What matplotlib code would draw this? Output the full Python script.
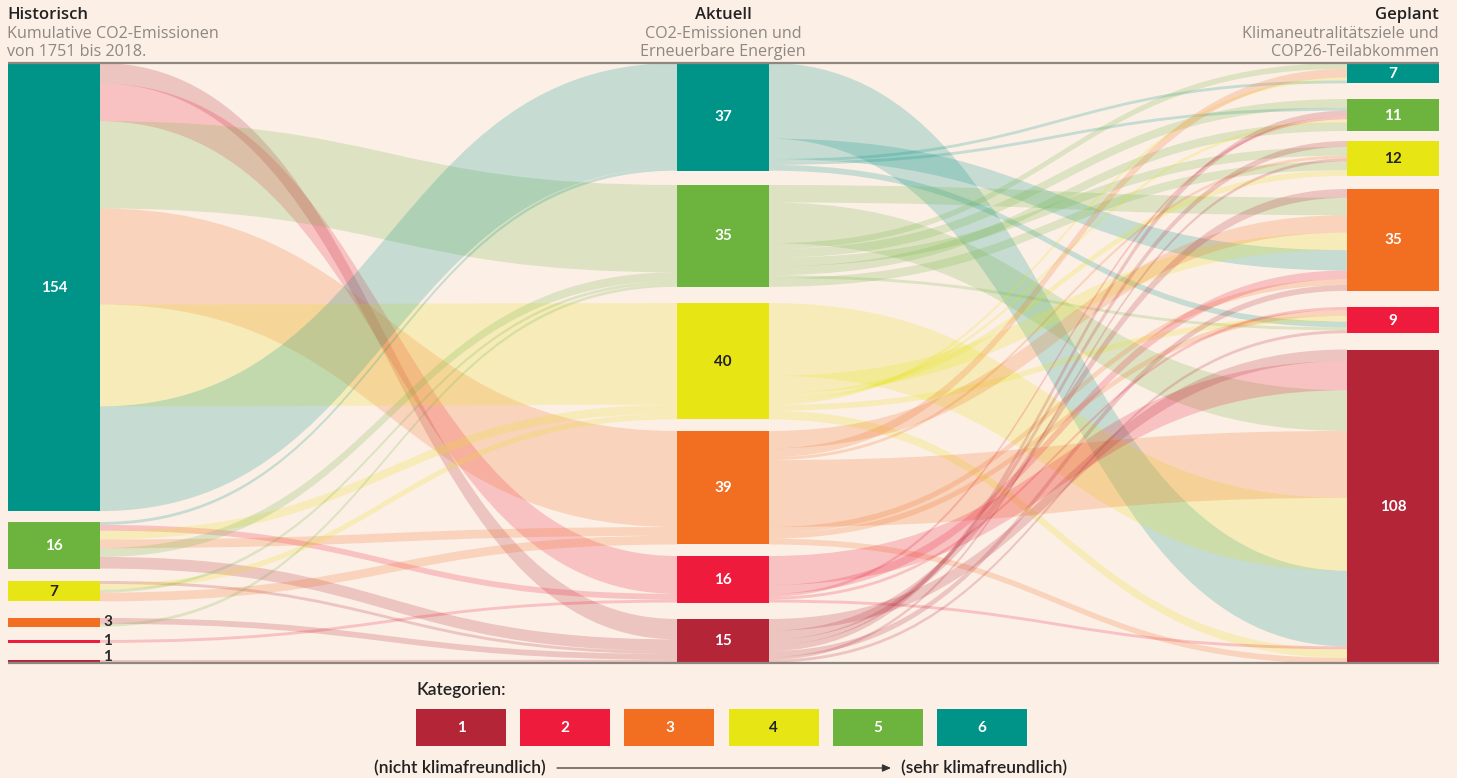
import matplotlib
matplotlib.use("Agg")
import matplotlib.pyplot as plt
from matplotlib.path import Path
from matplotlib.patches import PathPatch, Rectangle

# ---------------- data ----------------
cats = [6, 5, 4, 3, 2, 1]                 # node order top -> bottom in every column
left_values = [154, 16, 7, 3, 1, 1]
mid_values = [37, 35, 40, 39, 16, 15]
right_values = [7, 11, 12, 35, 9, 108]

# Historisch -> Aktuell (listed in stacking order at the source node)
lm_src = [6, 6, 6, 6, 6, 6, 5, 5, 5, 5, 5, 5, 4, 4, 4, 4, 3, 3, 2, 1]
lm_tgt = [1, 2, 5, 3, 4, 6, 6, 2, 4, 3, 5, 1, 1, 4, 5, 3, 1, 5, 2, 1]
lm_val = [7, 13, 30, 33, 35, 36, 1, 2, 3, 3, 3, 4, 1, 2, 1, 3, 2, 1, 1, 1]

# Aktuell -> Geplant (listed in stacking order at the source node)
mr_src = [6, 6, 6, 6, 6,
          5, 5, 5, 5, 5, 5, 5, 5,
          4, 4, 4, 4, 4, 4, 4,
          3, 3, 3, 3, 3, 3, 3,
          2, 2, 2, 2, 2,
          1, 1, 1, 1, 1, 1, 1]
mr_tgt = [1, 3, 6, 5, 2,
          3, 1, 6, 5, 4, 5, 2, 4,
          1, 3, 4, 5, 6, 2, 1,
          3, 6, 4, 1, 3, 2, 1,
          1, 3, 5, 2, 1,
          1, 3, 4, 5, 3, 4, 2]
mr_val = [26, 7, 1, 1, 2,
          6, 14, 2, 3, 3, 3, 1, 3,
          25, 6, 2, 1, 1, 2, 3,
          6, 3, 1, 23, 2, 2, 2,
          10, 3, 1, 1, 1,
          4, 3, 2, 2, 2, 1, 1]

legend_labels = ["1", "2", "3", "4", "5", "6"]

# ---------------- layout / style ----------------
W, H = 1457, 778
bg = "#fcefe6"
colors = {1: "#b42637", 2: "#ee1b3c", 3: "#f26f21", 4: "#e8e514",
          5: "#6db43f", 6: "#009489"}
txtcol = {1: "white", 2: "white", 3: "white", 4: "#222222", 5: "white", 6: "white"}
k = 2.91                       # pixels per unit
top, bottom = 63, 663
col_x = [(8, 100), (677, 769), (1347, 1439)]
left_tops = [63, 522, 581, 618, 640, 660]
mid_tops = [63, 185, 303, 431, 556, 619]
right_tops = [63, 99, 141, 189, 307, 349.5]
link_alpha = 0.21

# incoming order at right nodes: (source category, occurrence index)
r_in_order = {
    6: [(5, 0), (3, 0), (4, 0), (6, 0)],
    5: [(5, 0), (6, 0), (1, 0), (2, 0), (4, 0), (5, 1)],
    4: [(1, 0), (5, 0), (3, 0), (1, 1), (5, 1), (4, 0)],
    3: [(1, 0), (5, 0), (3, 0), (4, 0), (6, 0), (2, 0), (3, 1), (1, 1)],
    2: [(2, 0), (3, 0), (4, 0), (6, 0), (5, 0), (1, 0)],
    1: [(1, 0), (2, 0), (5, 0), (3, 0), (4, 0), (6, 0), (2, 1), (4, 1), (3, 1)],
}

fig = plt.figure(figsize=(W / 100, H / 100), dpi=100)
fig.patch.set_facecolor(bg)
ax = fig.add_axes([0, 0, 1, 1])
ax.set_xlim(0, W)
ax.set_ylim(H, 0)
ax.axis("off")
ax.set_facecolor(bg)

FONT = ["Lato", "DejaVu Sans"]
HFONT = ["Open Sans", "DejaVu Sans"]


def band(x0, y0a, y0b, x1, y1a, y1b, color):
    xm = (x0 + x1) / 2
    verts = [(x0, y0a), (xm, y0a), (xm, y1a), (x1, y1a),
             (x1, y1b), (xm, y1b), (xm, y0b), (x0, y0b), (x0, y0a)]
    codes = [Path.MOVETO, Path.CURVE4, Path.CURVE4, Path.CURVE4,
             Path.LINETO, Path.CURVE4, Path.CURVE4, Path.CURVE4, Path.CLOSEPOLY]
    ax.add_patch(PathPatch(Path(verts, codes), facecolor=color, edgecolor="none",
                           alpha=link_alpha, lw=0, zorder=1))


tops = [dict(zip(cats, left_tops)), dict(zip(cats, mid_tops)), dict(zip(cats, right_tops))]

# ---- left -> mid links ----
src_off = {c: 0.0 for c in cats}
lm_src_y = []
for s, t, v in zip(lm_src, lm_tgt, lm_val):
    y = tops[0][s] + src_off[s] * k
    lm_src_y.append(y)
    src_off[s] += v
tgt_off = {c: 0.0 for c in cats}
lm_tgt_y = [None] * len(lm_val)
for s_cat in cats:  # incoming stacked by source column order
    for i, (s, t, v) in enumerate(zip(lm_src, lm_tgt, lm_val)):
        if s == s_cat:
            lm_tgt_y[i] = tops[1][t] + tgt_off[t] * k
            tgt_off[t] += v
for i, (s, t, v) in enumerate(zip(lm_src, lm_tgt, lm_val)):
    band(col_x[0][1], lm_src_y[i], lm_src_y[i] + v * k,
         col_x[1][0], lm_tgt_y[i], lm_tgt_y[i] + v * k, colors[t])

# ---- mid -> right links ----
src_off = {c: 0.0 for c in cats}
occ = {}
mr_src_y, mr_key = [], []
for s, t, v in zip(mr_src, mr_tgt, mr_val):
    mr_src_y.append(tops[1][s] + src_off[s] * k)
    src_off[s] += v
    n = occ.get((s, t), 0)
    mr_key.append((s, t, n))
    occ[(s, t)] = n + 1
mr_tgt_y = {}
for t, order in r_in_order.items():
    off = 0.0
    for (s, n) in order:
        idx = mr_key.index((s, t, n))
        mr_tgt_y[idx] = tops[2][t] + off * k
        off += mr_val[idx]
for i, (s, t, v) in enumerate(zip(mr_src, mr_tgt, mr_val)):
    band(col_x[1][1], mr_src_y[i], mr_src_y[i] + v * k,
         col_x[2][0], mr_tgt_y[i], mr_tgt_y[i] + v * k, colors[s])

# ---- nodes ----
for ci, vals in enumerate([left_values, mid_values, right_values]):
    x0, x1 = col_x[ci]
    for c, v in zip(cats, vals):
        y0 = tops[ci][c]
        h = v * k
        ax.add_patch(Rectangle((x0, y0), x1 - x0, h, facecolor=colors[c],
                               edgecolor="none", zorder=3))
        if h >= 15:
            ax.text((x0 + x1) / 2, y0 + h / 2 + 0.5, str(v), ha="center", va="center",
                    color=txtcol[c], fontsize=11, fontweight="bold", family=FONT,
                    zorder=4)
        else:
            ax.text(x1 + 3, min(y0 + h / 2, 657), str(v), ha="left", va="center",
                    color="#2a2a2a", fontsize=11, fontweight="bold", family=FONT,
                    zorder=4)

# ---- axis lines ----
ax.plot([8, 1439], [top, top], color="#8e8781", lw=1.6, zorder=5, solid_capstyle="butt")
ax.plot([8, 1439], [bottom, bottom], color="#8e8781", lw=1.6, zorder=5, solid_capstyle="butt")

# ---- headers ----
hdr = dict(fontsize=12, fontweight="semibold", color="#222222", family=HFONT, va="center")
sub = dict(fontsize=11.6, fontweight="normal", color="#8c8884", family=HFONT, va="center")
ax.text(7, 15, "Historisch", ha="left", **hdr)
ax.text(7, 34, "Kumulative CO2-Emissionen", ha="left", **sub)
ax.text(7, 52, "von 1751 bis 2018.", ha="left", **sub)
ax.text(723, 15, "Aktuell", ha="center", **hdr)
ax.text(723, 34, "CO2-Emissionen und", ha="center", **sub)
ax.text(723, 52, "Erneuerbare Energien", ha="center", **sub)
ax.text(1439, 15, "Geplant", ha="right", **hdr)
ax.text(1439, 34, "Klimaneutralitätsziele und", ha="right", **sub)
ax.text(1439, 52, "COP26-Teilabkommen", ha="right", **sub)

# ---- legend ----
ax.text(416, 690, "Kategorien:", ha="left", va="center", fontsize=12.5, color="#222222",
        family=FONT, fontweight="semibold")
lx0, lw_, lstep = 416, 90, 104.2
for i, lab in enumerate(legend_labels):
    c = int(lab)
    x = lx0 + i * lstep
    ax.add_patch(Rectangle((x, 709), lw_, 37, facecolor=colors[c], edgecolor="none"))
    ax.text(x + lw_ / 2, 728, lab, ha="center", va="center", color=txtcol[c],
            fontsize=11, fontweight="bold", family=FONT)
ax.text(374, 768, "(nicht klimafreundlich)", ha="left", va="center", fontsize=12.6,
        color="#222222", family=FONT, fontweight="semibold")
ax.text(1067, 768, "(sehr klimafreundlich)", ha="right", va="center", fontsize=12.6,
        color="#222222", family=FONT, fontweight="semibold")
ax.annotate("", xy=(891, 768), xytext=(557, 768),
            arrowprops=dict(arrowstyle="-|>,head_length=0.5,head_width=0.22",
                            color="#333333", lw=0.9, shrinkA=0, shrinkB=0))

fig.savefig("out.png", dpi=100, facecolor=bg)
